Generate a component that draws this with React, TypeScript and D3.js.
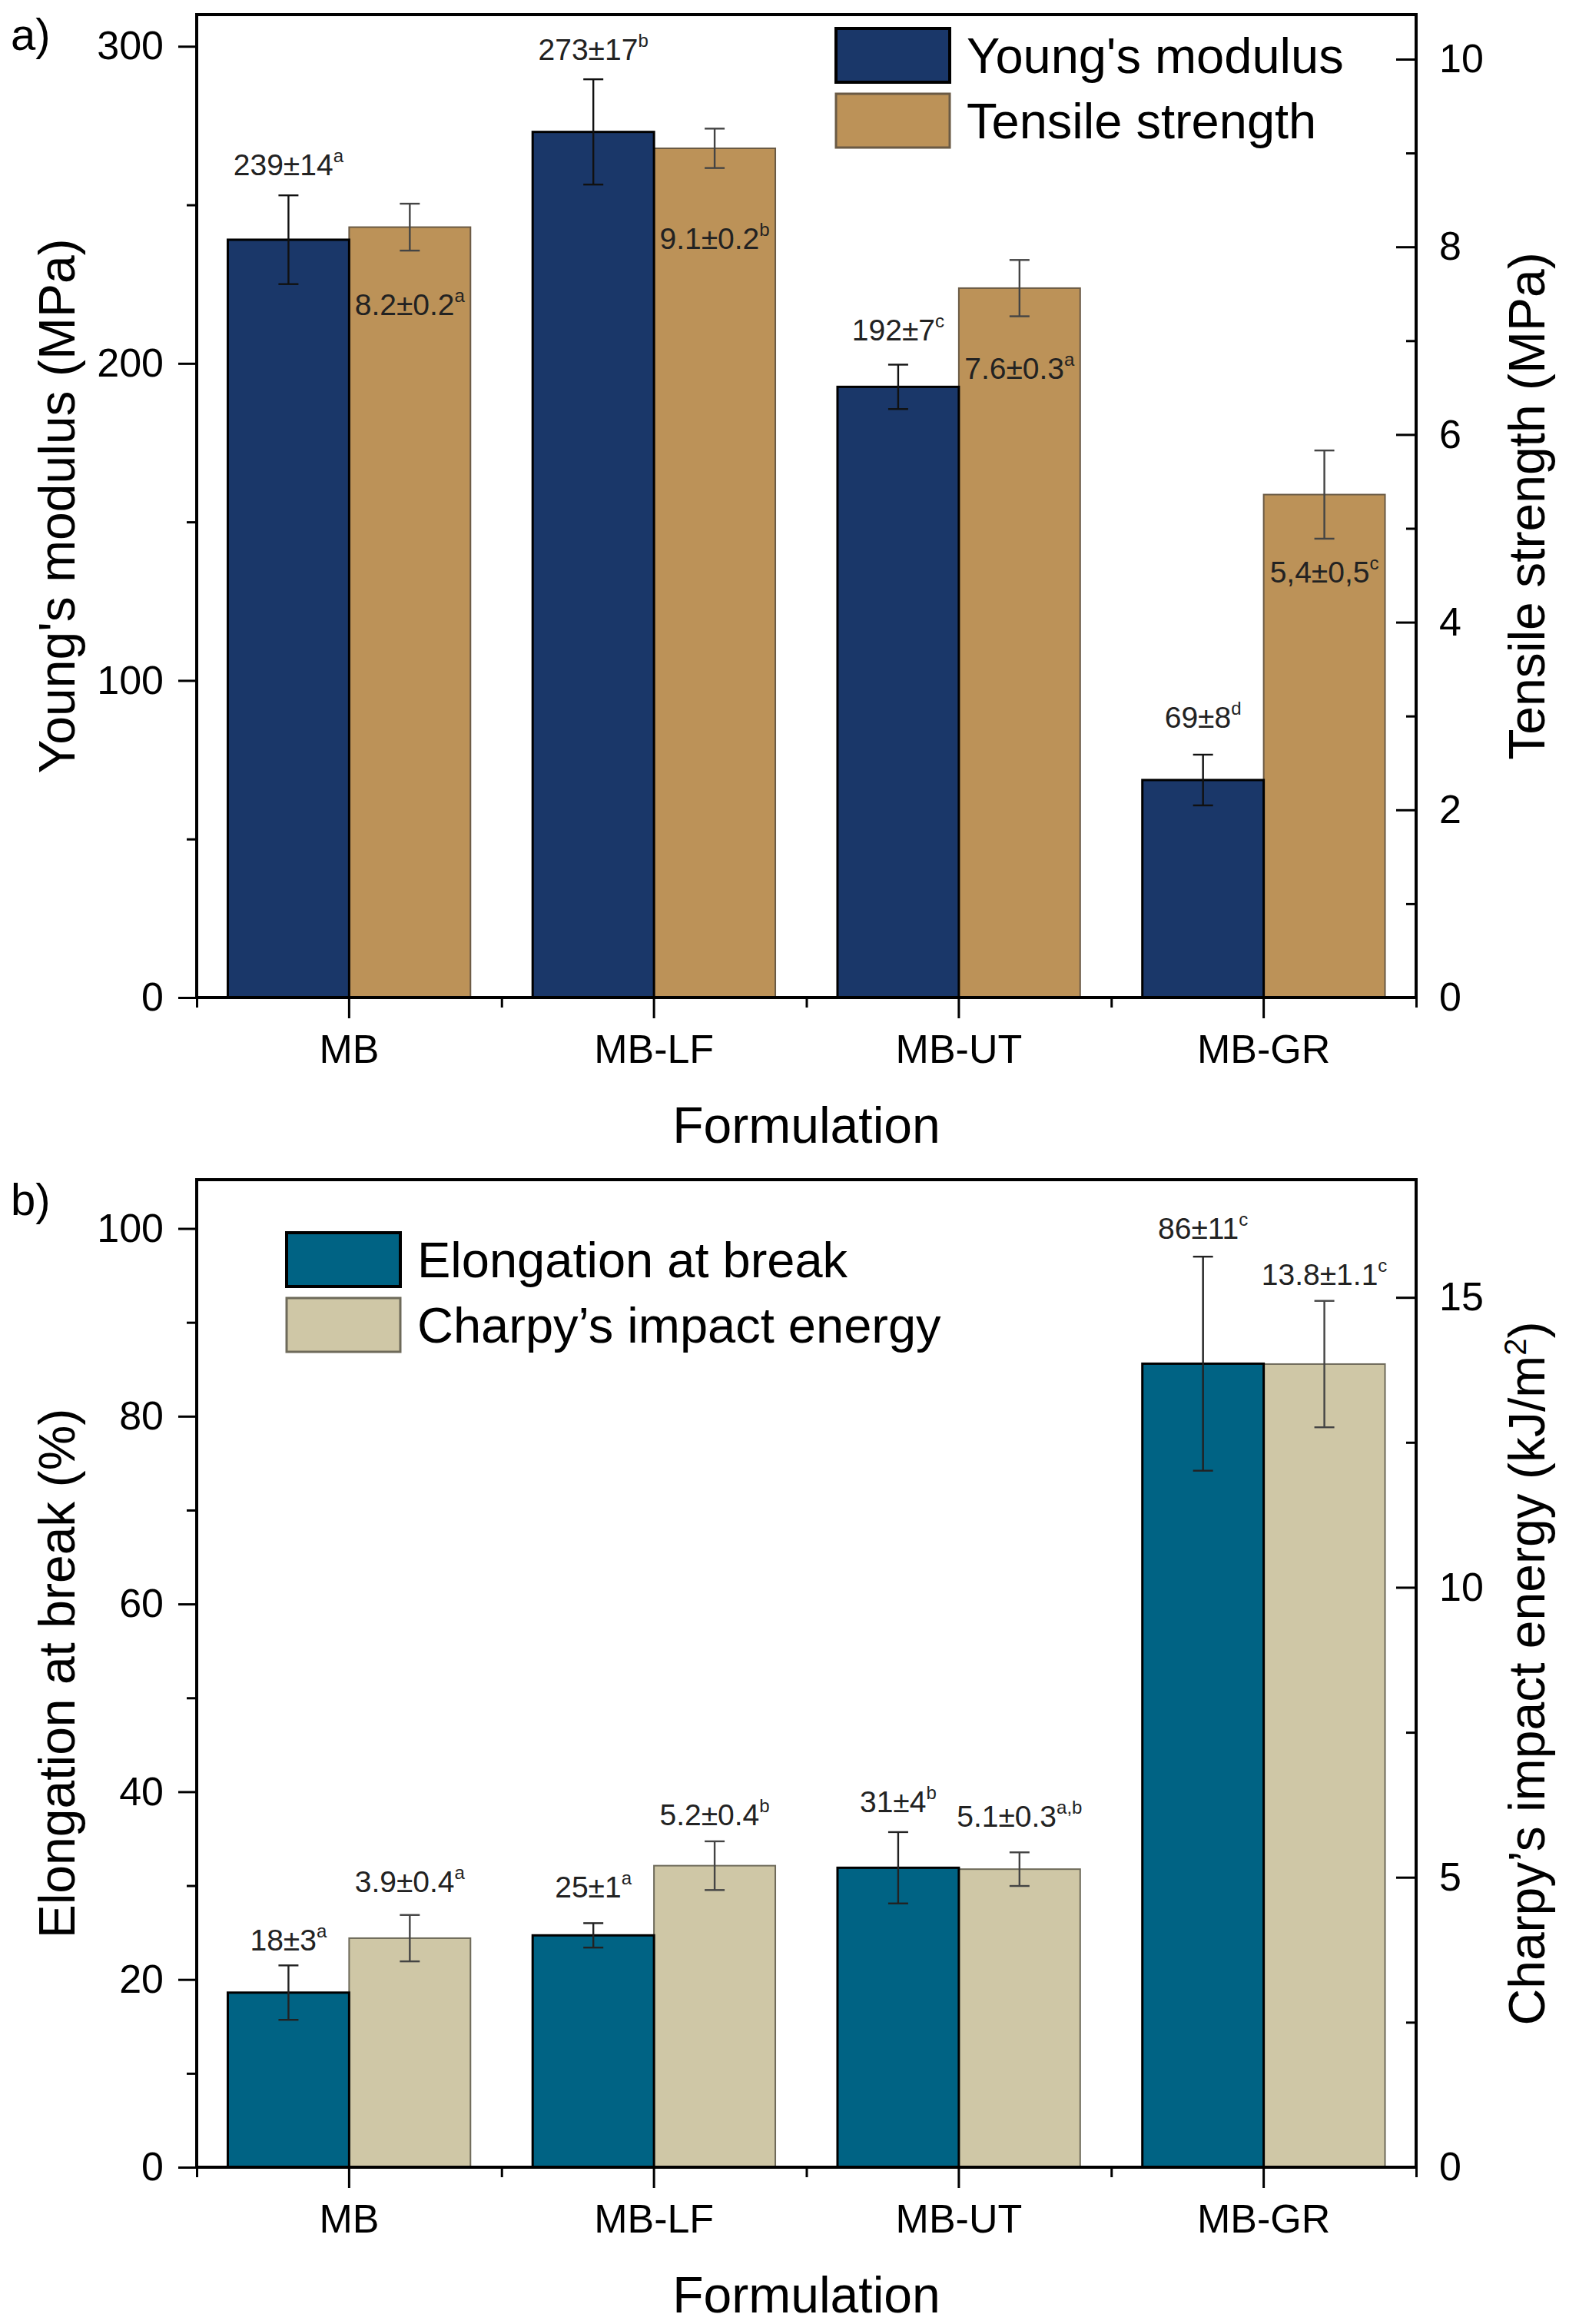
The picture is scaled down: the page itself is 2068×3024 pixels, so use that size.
import React, { useEffect, useRef } from "react";
import * as d3 from "d3";

// tamanho da figura (pixels da imagem original)
const WIDTH = 2068;
const HEIGHT = 3024;
const X0 = 256;
const X1 = 1843;
const FONT = "'Liberation Sans', Arial, Helvetica, sans-serif";

const categories = ["MB", "MB-LF", "MB-UT", "MB-GR"];

// painel a)
const youngMean = [239, 273, 192.6, 68.6];
const youngErr = [14, 16.6, 7, 8];
const youngText = ["239±14", "273±17", "192±7", "69±8"];
const youngSup = ["a", "b", "c", "d"];
const youngTextAt = [259.3, 295.7, 207.2, 85.1];

const tensileMean = [8.21, 9.05, 7.56, 5.36];
const tensileErr = [0.25, 0.21, 0.3, 0.47];
const tensileText = ["8.2±0.2", "9.1±0.2", "7.6±0.3", "5,4±0,5"];
const tensileSup = ["a", "b", "a", "c"];
const tensileTextAt = [7.27, 7.98, 6.59, 4.42];

// painel b)
const elongMean = [18.6, 24.7, 31.9, 85.6];
const elongErr = [2.9, 1.3, 3.8, 11.4];
const elongText = ["18±3", "25±1", "31±4", "86±11"];
const elongSup = ["a", "a", "b", "c"];
const elongTextAt = [23.1, 28.7, 37.8, 98.9];

const charpyMean = [3.95, 5.2, 5.14, 13.85];
const charpyErr = [0.4, 0.42, 0.29, 1.09];
const charpyText = ["3.9±0.4", "5.2±0.4", "5.1±0.3", "13.8±1.1"];
const charpySup = ["a", "b", "a,b", "c"];
const charpyTextAt = [4.74, 5.9, 5.87, 15.22];

type Series = {
  name: string;
  mean: number[];
  err: number[];
  text: string[];
  sup: string[];
  textAt: number[];
  fill: string;
  stroke: string;
  strokeWidth: number;
  errColor: string;
};

type Panel = {
  letter: string;
  top: number;
  bottom: number;
  leftMax: number;
  leftMajor: number[];
  leftMinor: number[];
  rightMax: number;
  rightMajor: number[];
  rightMinor: number[];
  leftTitle: string;
  rightTitle: [string, string?, string?];
  left: Series;
  right: Series;
  legendX: number;
  legendY: number;
};

const App: React.FC = () => {
  const ref = useRef<SVGSVGElement | null>(null);

  useEffect(() => {
    if (!ref.current) return;
    const svg = d3.select(ref.current);
    svg.selectAll("*").remove();
    svg.append("rect").attr("width", WIDTH).attr("height", HEIGHT).attr("fill", "#fff");

    const x = d3.scaleBand<string>().domain(categories).range([X0, X1]).padding(0);
    const xMinor = d3.scaleLinear().domain([0, 4]).range([X0, X1]);
    const bw = x.bandwidth() * 0.398;

    const panels: Panel[] = [
      {
        letter: "a)",
        top: 19,
        bottom: 1298,
        leftMax: 310,
        leftMajor: [0, 100, 200, 300],
        leftMinor: [50, 150, 250],
        rightMax: 10.475,
        rightMajor: [0, 2, 4, 6, 8, 10],
        rightMinor: [1, 3, 5, 7, 9],
        leftTitle: "Young's modulus (MPa)",
        rightTitle: ["Tensile strength (MPa)"],
        left: {
          name: "Young's modulus",
          mean: youngMean,
          err: youngErr,
          text: youngText,
          sup: youngSup,
          textAt: youngTextAt,
          fill: "#1a3769",
          stroke: "#000",
          strokeWidth: 3,
          errColor: "#111",
        },
        right: {
          name: "Tensile strength",
          mean: tensileMean,
          err: tensileErr,
          text: tensileText,
          sup: tensileSup,
          textAt: tensileTextAt,
          fill: "#bc9258",
          stroke: "#6a5a45",
          strokeWidth: 2,
          errColor: "#444",
        },
        legendX: 1088,
        legendY: 37,
      },
      {
        letter: "b)",
        top: 1535,
        bottom: 2820,
        leftMax: 105.2,
        leftMajor: [0, 20, 40, 60, 80, 100],
        leftMinor: [10, 30, 50, 70, 90],
        rightMax: 17.03,
        rightMajor: [0, 5, 10, 15],
        rightMinor: [2.5, 7.5, 12.5],
        leftTitle: "Elongation at break (%)",
        rightTitle: ["Charpy’s impact energy (kJ/m", "2", ")"],
        left: {
          name: "Elongation at break",
          mean: elongMean,
          err: elongErr,
          text: elongText,
          sup: elongSup,
          textAt: elongTextAt,
          fill: "#006384",
          stroke: "#000",
          strokeWidth: 3,
          errColor: "#222",
        },
        right: {
          name: "Charpy’s impact energy",
          mean: charpyMean,
          err: charpyErr,
          text: charpyText,
          sup: charpySup,
          textAt: charpyTextAt,
          fill: "#cfc7a6",
          stroke: "#6e6a5a",
          strokeWidth: 2,
          errColor: "#444",
        },
        legendX: 373,
        legendY: 1604,
      },
    ];

    panels.forEach((p) => {
      const g = svg.append("g").attr("font-family", FONT);
      const yL = d3.scaleLinear().domain([0, p.leftMax]).range([p.bottom, p.top]);
      const yR = d3.scaleLinear().domain([0, p.rightMax]).range([p.bottom, p.top]);

      // barras (direita primeiro para o contorno preto ficar por cima)
      const drawBars = (s: Series, y: d3.ScaleLinear<number, number>, dx: number) => {
        g.append("g")
          .selectAll("rect")
          .data(categories)
          .join("rect")
          .attr("x", (c) => (x(c) || 0) + x.bandwidth() / 2 + dx)
          .attr("y", (_, i) => y(s.mean[i]))
          .attr("width", bw)
          .attr("height", (_, i) => p.bottom - y(s.mean[i]))
          .attr("fill", s.fill)
          .attr("stroke", s.stroke)
          .attr("stroke-width", s.strokeWidth);
      };
      drawBars(p.right, yR, 0);
      drawBars(p.left, yL, -bw);

      // barras de erro e rótulos
      const drawErr = (s: Series, y: d3.ScaleLinear<number, number>, dx: number) => {
        categories.forEach((c, i) => {
          const cx = (x(c) || 0) + x.bandwidth() / 2 + dx;
          const hi = y(s.mean[i] + s.err[i]);
          const lo = y(s.mean[i] - s.err[i]);
          const eg = g.append("g").attr("stroke", s.errColor).attr("stroke-width", 2.4);
          eg.append("line").attr("x1", cx).attr("x2", cx).attr("y1", hi).attr("y2", lo);
          [hi, lo].forEach((yy) =>
            eg.append("line").attr("x1", cx - 13).attr("x2", cx + 13).attr("y1", yy).attr("y2", yy)
          );
          const t = g
            .append("text")
            .attr("x", cx)
            .attr("y", y(s.textAt[i]))
            .attr("text-anchor", "middle")
            .attr("font-size", 39)
            .attr("fill", "#222");
          t.append("tspan").text(s.text[i]);
          t.append("tspan").attr("font-size", 24).attr("dy", -17).text(s.sup[i]);
        });
      };
      drawErr(p.left, yL, -bw / 2);
      drawErr(p.right, yR, bw / 2);

      // eixos
      const styleAxis = (a: d3.Selection<SVGGElement, unknown, null, undefined>) => {
        a.select(".domain").remove();
        a.attr("font-family", FONT).attr("font-size", 52).attr("color", "#000");
        a.selectAll("line").attr("stroke-width", 3);
      };
      styleAxis(
        g.append("g")
          .attr("transform", `translate(${X0},0)`)
          .call(d3.axisLeft(yL).tickValues(p.leftMajor).tickSize(24).tickPadding(19).tickFormat(d3.format("d")))
      );
      styleAxis(
        g.append("g")
          .attr("transform", `translate(${X0},0)`)
          .call(d3.axisLeft(yL).tickValues(p.leftMinor).tickSize(13).tickFormat(() => ""))
      );
      styleAxis(
        g.append("g")
          .attr("transform", `translate(${X1},0)`)
          .call(d3.axisRight(yR).tickValues(p.rightMajor).tickSize(-26).tickPadding(30).tickFormat(d3.format("d")))
      );
      styleAxis(
        g.append("g")
          .attr("transform", `translate(${X1},0)`)
          .call(d3.axisRight(yR).tickValues(p.rightMinor).tickSize(-13).tickFormat(() => ""))
      );
      styleAxis(
        g.append("g")
          .attr("transform", `translate(0,${p.bottom})`)
          .call(d3.axisBottom(x).tickSize(27).tickPadding(21))
      );
      styleAxis(
        g.append("g")
          .attr("transform", `translate(0,${p.bottom})`)
          .call(d3.axisBottom(xMinor).tickValues([0, 1, 2, 3, 4]).tickSize(13).tickFormat(() => ""))
      );

      // moldura
      g.append("rect")
        .attr("x", X0)
        .attr("y", p.top)
        .attr("width", X1 - X0)
        .attr("height", p.bottom - p.top)
        .attr("fill", "none")
        .attr("stroke", "#000")
        .attr("stroke-width", 4);

      // títulos
      const midY = (p.top + p.bottom) / 2;
      g.append("text")
        .attr("transform", `translate(97,${midY}) rotate(-90)`)
        .attr("text-anchor", "middle")
        .attr("font-size", 66)
        .text(p.leftTitle);
      const rt = g
        .append("text")
        .attr("transform", `translate(2010,${midY}) rotate(-90)`)
        .attr("text-anchor", "middle")
        .attr("font-size", 66);
      rt.append("tspan").text(p.rightTitle[0]);
      if (p.rightTitle[1]) {
        rt.append("tspan").attr("font-size", 40).attr("dy", -24).text(p.rightTitle[1]);
        rt.append("tspan").attr("dy", 24).text(p.rightTitle[2] || "");
      }
      g.append("text")
        .attr("x", (X0 + X1) / 2)
        .attr("y", p.bottom + 189)
        .attr("text-anchor", "middle")
        .attr("font-size", 66)
        .text("Formulation");
      g.append("text")
        .attr("x", 14)
        .attr("y", p.top + 46)
        .attr("font-size", 58)
        .text(p.letter);

      // legenda
      [p.left, p.right].forEach((s, i) => {
        const ly = p.legendY + i * 85;
        g.append("rect")
          .attr("x", p.legendX)
          .attr("y", ly)
          .attr("width", 148)
          .attr("height", 70)
          .attr("fill", s.fill)
          .attr("stroke", s.stroke)
          .attr("stroke-width", s.strokeWidth + 1);
        g.append("text")
          .attr("x", p.legendX + 170)
          .attr("y", ly + 58)
          .attr("font-size", 65)
          .text(s.name);
      });
    });
  }, []);

  return (
    <svg
      ref={ref}
      width={WIDTH}
      height={HEIGHT}
      style={{ position: "absolute", left: 0, top: 0 }}
    />
  );
};

export default App;
